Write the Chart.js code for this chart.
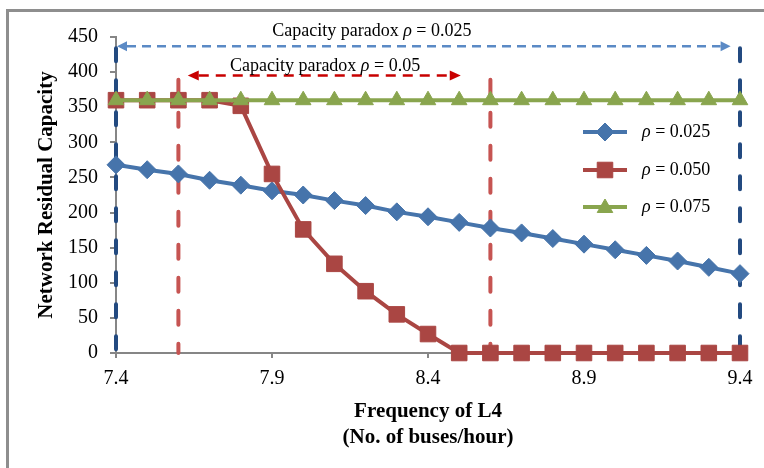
<!DOCTYPE html>
<html>
<head>
<meta charset="utf-8">
<script src="https://cdn.jsdelivr.net/npm/chart.js@4"></script>
<style>
  html, body { margin: 0; padding: 0; background: #fff; overflow: hidden; }
  #frame { position: absolute; left: 6px; top: 9px; width: 800px; height: 500px;
           border-left: 3px solid #8e8e8e; border-top: 3px solid #8e8e8e; }
  #wrap { position: absolute; left: 0; top: 0; width: 764px; height: 468px; }
</style>
</head>
<body>
<div id="frame"></div>
<div id="wrap"><canvas id="chart" width="764" height="468"></canvas></div>
<script>
// Data
const freq = [7.4, 7.5, 7.6, 7.7, 7.8, 7.9, 8.0, 8.1, 8.2, 8.3, 8.4, 8.5, 8.6, 8.7, 8.8, 8.9, 9.0, 9.1, 9.2, 9.3, 9.4];
const rho025 = [268, 261, 255, 246, 239, 231, 225, 217, 210, 201, 194, 186, 178, 171, 163, 155, 147, 139, 131, 122, 113];
const rho050 = [360, 360, 360, 360, 352, 255, 176, 127, 88, 55, 27, 0, 0, 0, 0, 0, 0, 0, 0, 0, 0];
const rho075 = [360, 360, 360, 360, 360, 360, 360, 360, 360, 360, 360, 360, 360, 360, 360, 360, 360, 360, 360, 360, 360];
const seriesNames = ["0.025", "0.050", "0.075"];
const xTicks = [7.4, 7.9, 8.4, 8.9, 9.4];

// paradox ranges (in data units)
const paradox025 = [7.4, 9.4];
const paradox050 = [7.6, 8.6];

const BLUE = "#4674ab", RED = "#aa4643", GREEN = "#89a54e";
const SERIF = "'Liberation Serif', 'Times New Roman', serif";

function pts(ys) { return ys.map((y, i) => ({ x: freq[i], y: y })); }

// draw "prefix ρ suffix" with italic rho
function rhoText(ctx, x, y, prefix, suffix, size, align) {
  ctx.save();
  ctx.textBaseline = "middle";
  ctx.fillStyle = "#000";
  const normal = size + "px " + SERIF;
  const italic = "italic " + size + "px " + SERIF;
  ctx.font = normal;
  const w1 = ctx.measureText(prefix).width;
  const w3 = ctx.measureText(suffix).width;
  ctx.font = italic;
  const w2 = ctx.measureText("ρ").width;
  let sx = align === "center" ? x - (w1 + w2 + w3) / 2 : x;
  ctx.textAlign = "left";
  ctx.font = normal; ctx.fillText(prefix, sx, y);
  ctx.font = italic; ctx.fillText("ρ", sx + w1, y);
  ctx.font = normal; ctx.fillText(suffix, sx + w1 + w2, y);
  ctx.restore();
}

function arrow(ctx, x1, x2, y, color, dash, head) {
  ctx.save();
  ctx.strokeStyle = color; ctx.fillStyle = color; ctx.lineWidth = 2.5;
  ctx.setLineDash(dash);
  ctx.beginPath(); ctx.moveTo(x1 + head, y); ctx.lineTo(x2 - head, y); ctx.stroke();
  ctx.setLineDash([]);
  ctx.beginPath(); ctx.moveTo(x1, y); ctx.lineTo(x1 + head, y - 5); ctx.lineTo(x1 + head, y + 5); ctx.closePath(); ctx.fill();
  ctx.beginPath(); ctx.moveTo(x2, y); ctx.lineTo(x2 - head, y - 5); ctx.lineTo(x2 - head, y + 5); ctx.closePath(); ctx.fill();
  ctx.restore();
}

function vline(ctx, x, yTop, yBot, color, dash) {
  ctx.save();
  ctx.strokeStyle = color; ctx.lineWidth = 4; ctx.lineCap = "round";
  ctx.setLineDash(dash);
  ctx.beginPath(); ctx.moveTo(x, yTop); ctx.lineTo(x, yBot); ctx.stroke();
  ctx.restore();
}

const paradoxPlugin = {
  id: "paradox",
  beforeDatasetsDraw(chart) {
    const ctx = chart.ctx, xs = chart.scales.x, ys = chart.scales.y;
    const bot = ys.getPixelForValue(0);
    paradox025.forEach(v => vline(ctx, xs.getPixelForValue(v), ys.getPixelForValue(434), bot, "#234a80", [13, 19]));
    paradox050.forEach(v => vline(ctx, xs.getPixelForValue(v), ys.getPixelForValue(389), bot, "#c65452", [14, 19]));
  },
  afterDatasetsDraw(chart) {
    const ctx = chart.ctx, xs = chart.scales.x, ys = chart.scales.y;
    arrow(ctx, xs.getPixelForValue(paradox025[0]) + 1, xs.getPixelForValue(9.37), ys.getPixelForValue(437), "#5b8ac5", [9, 6], 10);
    arrow(ctx, xs.getPixelForValue(7.63), xs.getPixelForValue(8.505), ys.getPixelForValue(395), "#c80000", [10, 7], 11);
    rhoText(ctx, xs.getPixelForValue(8.22), ys.getPixelForValue(458), "Capacity paradox ", " = 0.025", 18, "center");
    rhoText(ctx, xs.getPixelForValue(8.07), ys.getPixelForValue(408), "Capacity paradox ", " = 0.05", 18, "center");

    // legend
    const rows = [132, 170, 207];
    chart.data.datasets.forEach((ds, i) => {
      const y = rows[i];
      ctx.save();
      ctx.strokeStyle = ds.borderColor; ctx.fillStyle = ds.backgroundColor; ctx.lineWidth = ds.borderWidth;
      ctx.beginPath(); ctx.moveTo(583, y); ctx.lineTo(627, y); ctx.stroke();
      ctx.lineWidth = 1;
      Chart.helpers.drawPoint(ctx, {
        pointStyle: ds.pointStyle, radius: ds.pointRadius, borderWidth: 1, rotation: 0
      }, 605, y + (ds.pointStyle === "triangle" ? 1 : 0));
      ctx.restore();
      rhoText(ctx, 642, y, "", " = " + seriesNames[i], 18, "left");
    });
  }
};

new Chart(document.getElementById("chart"), {
  type: "line",
  data: {
    datasets: [
      { label: "ρ = " + seriesNames[0], data: pts(rho025), borderColor: BLUE, backgroundColor: BLUE,
        borderWidth: 4, pointStyle: "rectRot", pointRadius: 9, pointBorderWidth: 1, order: 3, clip: false },
      { label: "ρ = " + seriesNames[1], data: pts(rho050), borderColor: RED, backgroundColor: RED,
        borderWidth: 4, pointStyle: "rect", pointRadius: 11, pointBorderWidth: 1, order: 2, clip: false },
      { label: "ρ = " + seriesNames[2], data: pts(rho075), borderColor: GREEN, backgroundColor: GREEN,
        borderWidth: 4, pointStyle: "triangle", pointRadius: 9, pointBorderWidth: 1, order: 1, clip: false }
    ]
  },
  options: {
    responsive: false,
    animation: false,
    layout: { padding: { left: 0, top: 37, right: 24, bottom: 0 } },
    plugins: { legend: { display: false }, tooltip: { enabled: false } },
    scales: {
      x: {
        type: "linear", min: 7.4, max: 9.4,
        afterBuildTicks: s => { s.ticks = xTicks.map(v => ({ value: v })); },
        afterFit: s => { s.height = 468 - 353; },
        grid: { drawOnChartArea: false, tickLength: 5, color: "#868686", lineWidth: 2 },
        border: { color: "#868686", width: 2 },
        ticks: { color: "#000", padding: 9, font: { family: SERIF, size: 20 }, callback: v => v.toFixed(1) },
        title: { display: true, text: ["Frequency of L4", "(No. of buses/hour)"], color: "#000",
                 font: { family: SERIF, size: 21, weight: "bold", lineHeight: 1.25 }, padding: { top: 0, bottom: 17 } }
      },
      y: {
        min: 0, max: 450,
        ticks: { stepSize: 50, color: "#000", padding: 12, font: { family: SERIF, size: 20 } },
        afterFit: s => { s.width = 116; },
        grid: { drawOnChartArea: false, tickLength: 6, color: "#868686", lineWidth: 2 },
        border: { color: "#868686", width: 2 },
        title: { display: true, text: "Network Residual Capacity", color: "#000",
                 font: { family: SERIF, size: 21, weight: "bold", lineHeight: 1.2 }, padding: { top: 34, bottom: 0 } }
      }
    }
  },
  plugins: [paradoxPlugin]
});
</script>
</body>
</html>
